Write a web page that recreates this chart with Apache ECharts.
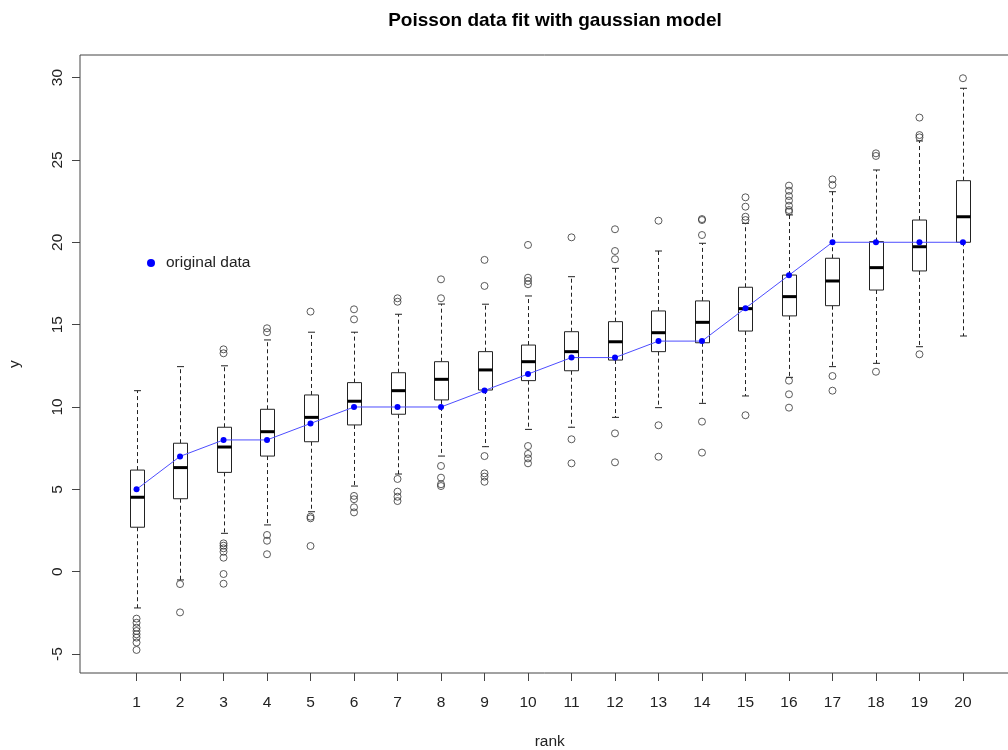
<!DOCTYPE html>
<html>
<head>
<meta charset="utf-8">
<script src="https://cdn.jsdelivr.net/npm/echarts@6/dist/echarts.min.js"></script>
<style>
html,body{margin:0;padding:0;background:#fff;}
#chart{width:1008px;height:750px;}
</style>
</head>
<body>
<div id="chart"></div>
<script>
// ---- data ----
const ranks = [1,2,3,4,5,6,7,8,9,10,11,12,13,14,15,16,17,18,19,20];
const originalData = [5,7,8,8,9,10,10,10,11,12,13,13,14,14,16,18,20,20,20,20];
const whiskerLow  = [-2.2,-0.5,2.33,2.84,3.64,5.2,5.93,7.02,7.59,8.64,8.77,9.37,9.96,10.22,10.67,11.8,12.45,12.65,13.66,14.31];
const q1          = [2.7,4.43,6.03,7.02,7.89,8.91,9.56,10.43,11.03,11.6,12.2,12.85,13.36,13.9,14.61,15.53,16.15,17.1,18.26,20.0];
const median      = [4.52,6.32,7.57,8.5,9.37,10.35,10.99,11.68,12.25,12.75,13.36,13.96,14.51,15.14,15.97,16.7,17.65,18.46,19.73,21.55];
const q3          = [6.17,7.8,8.77,9.86,10.73,11.48,12.08,12.75,13.36,13.76,14.57,15.18,15.83,16.44,17.27,18.01,19.03,20.04,21.35,23.74];
const whiskerHigh = [10.99,12.45,12.5,14.07,14.54,14.54,15.63,16.25,16.24,16.74,17.91,18.42,19.47,19.94,21.15,21.66,23.07,24.39,26.15,29.35];
const outlierValues = [
  [-2.85,-3.1,-3.4,-3.6,-3.8,-4.0,-4.3,-4.75],
  [-0.75,-2.47],
  [13.5,13.26,1.72,1.58,1.42,1.21,0.85,-0.14,-0.73],
  [14.78,14.54,2.23,1.88,1.06],
  [15.79,3.34,3.24,1.56],
  [15.93,15.32,4.6,4.4,3.91,3.6],
  [16.6,16.39,5.63,4.86,4.55,4.29],
  [17.75,16.6,6.42,5.71,5.31,5.2],
  [18.93,17.35,7.02,5.97,5.77,5.46],
  [19.84,17.85,17.65,17.45,7.63,7.15,6.88,6.58],
  [20.3,8.04,6.58],
  [20.79,19.47,18.97,8.4,6.64],
  [21.31,8.89,6.98],
  [21.41,21.35,20.44,9.11,7.23],
  [22.73,22.16,21.55,21.35,9.5],
  [23.44,23.13,22.81,22.53,22.22,21.96,21.86,11.6,10.77,9.96],
  [23.82,23.48,11.88,10.99],
  [25.4,25.24,12.14],
  [27.57,26.51,26.37,13.2],
  [29.96]
];
const yTicks = [-5,0,5,10,15,20,25,30];
const xTicks = ranks;

// ---- build library data ----
const boxData = ranks.map((r,i)=>[r, whiskerLow[i], q1[i], median[i], q3[i], whiskerHigh[i]]);
const outlierData = [];
outlierValues.forEach((arr,i)=>arr.forEach(v=>outlierData.push([ranks[i], v])));
const lineData = ranks.map((r,i)=>[r, originalData[i]]);

const FONT = '"Liberation Sans", Arial, Helvetica, sans-serif';
const INK = '#222';

function renderBox(params, api){
  const r = api.value(0);
  const pLow = api.coord([r, api.value(1)]);
  const pQ1 = api.coord([r, api.value(2)]);
  const pMed = api.coord([r, api.value(3)]);
  const pQ3 = api.coord([r, api.value(4)]);
  const pHigh = api.coord([r, api.value(5)]);
  const x = Math.round(pMed[0]) + 0.5;
  const hw = 7, cw = 3.5;
  const dashStyle = {stroke: INK, lineWidth: 1, lineDash: [4,3]};
  const solid = {stroke: INK, lineWidth: 1};
  return {
    type: 'group',
    children: [
      {type:'line', shape:{x1:x,y1:pQ3[1],x2:x,y2:pHigh[1]}, style:dashStyle},
      {type:'line', shape:{x1:x,y1:pQ1[1],x2:x,y2:pLow[1]}, style:dashStyle},
      {type:'line', shape:{x1:x-cw,y1:pHigh[1],x2:x+cw,y2:pHigh[1]}, style:solid},
      {type:'line', shape:{x1:x-cw,y1:pLow[1],x2:x+cw,y2:pLow[1]}, style:solid},
      {type:'rect', shape:{x:x-hw,y:pQ3[1],width:hw*2,height:pQ1[1]-pQ3[1]}, style:{fill:'#fff',stroke:INK,lineWidth:1}},
      {type:'line', shape:{x1:x-hw,y1:pMed[1],x2:x+hw,y2:pMed[1]}, style:{stroke:'#000',lineWidth:3}}
    ]
  };
}

const chart = echarts.init(document.getElementById('chart'), null, {renderer:'canvas'});
chart.setOption({
  animation: false,
  backgroundColor: '#fff',
  title: {
    text: 'Poisson data fit with gaussian model',
    left: 550, top: 6, textAlign: 'center',
    textStyle: {fontFamily: FONT, fontSize: 19, fontWeight: 'bold', color: '#000'}
  },
  legend: {
    data: [{name:'original data', icon:'circle'}],
    left: 147, top: 255, padding: 0,
    itemWidth: 8, itemHeight: 8,
    textStyle: {fontFamily: FONT, fontSize: 15.5, color: INK, padding:[0,0,0,6]}
  },
  grid: {
    left: 80, top: 55, width: 939.5, height: 618,
    containLabel: false, outerBoundsMode: 'none',
    show: true, borderColor: '#444', borderWidth: 1, backgroundColor: 'transparent'
  },
  xAxis: {
    type: 'value', min: -0.3, max: 21.3,
    name: 'rank', nameLocation: 'middle', nameGap: 61,
    nameTextStyle: {fontFamily: FONT, fontSize: 15.5, color: INK},
    axisLine: {show: false, onZero: false},
    splitLine: {show: false},
    axisTick: {show: true, length: 8, lineStyle:{color:'#444'}, customValues: xTicks},
    axisLabel: {fontFamily: FONT, fontSize: 15.5, color: INK, margin: 22, customValues: xTicks}
  },
  yAxis: {
    type: 'value', min: -6.15, max: 31.37,
    name: 'y', nameLocation: 'middle', nameGap: 57, nameRotate: 90,
    nameTextStyle: {fontFamily: FONT, fontSize: 15.5, color: INK},
    axisLine: {show: false, onZero: false},
    splitLine: {show: false},
    axisTick: {show: true, length: 8, lineStyle:{color:'#444'}, customValues: yTicks},
    axisLabel: {fontFamily: FONT, fontSize: 15.5, color: INK, margin: 14, rotate: 90, customValues: yTicks}
  },
  series: [
    {
      type: 'custom', name: 'box', renderItem: renderBox,
      data: boxData, encode: {x: 0, y: [1,2,3,4,5]}, z: 2, silent: true
    },
    {
      type: 'scatter', name: 'outliers', data: outlierData,
      symbol: 'circle', symbolSize: 7,
      itemStyle: {color: 'rgba(0,0,0,0)', borderColor: '#333', borderWidth: 1},
      z: 3, silent: true
    },
    {
      type: 'line', name: 'original data', data: lineData,
      symbol: 'circle', symbolSize: 6, showSymbol: true,
      lineStyle: {color: '#4d4dff', width: 1},
      itemStyle: {color: '#0000ff'},
      z: 5, silent: true
    }
  ]
});
</script>
</body>
</html>
